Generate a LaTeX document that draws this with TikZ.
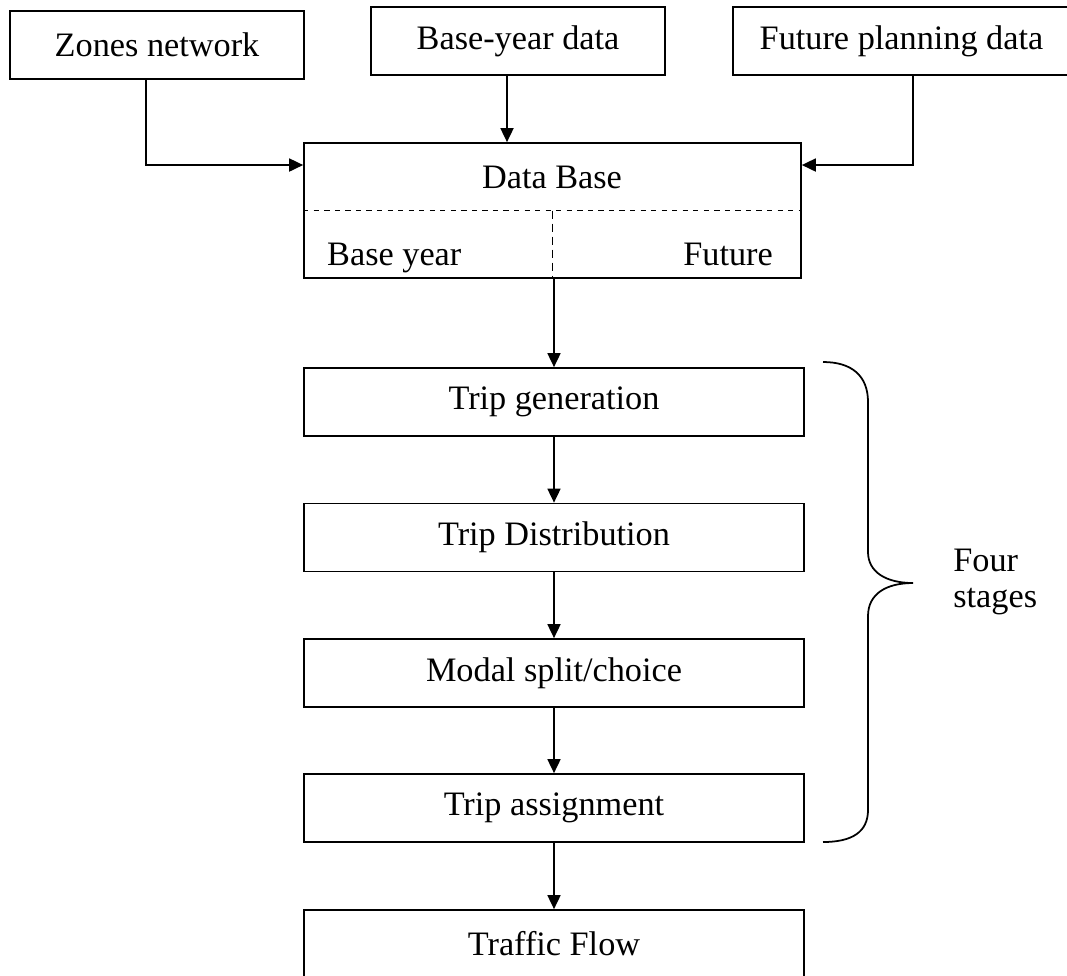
\documentclass[tikz,border=0pt]{standalone}
\usepackage{fontspec}
\setmainfont{Liberation Serif}
\usepackage{tikz}
\usetikzlibrary{arrows.meta}

\begin{document}
\begin{tikzpicture}[x=0.02cm, y=-0.02cm,
                    every node/.style={font=\fontsize{19.5}{23.5}\selectfont},
                    box/.style={draw, line width=1pt, minimum height=1.36cm, inner sep=0pt},
                    arr/.style={line width=1pt, -{Triangle[length=0.28cm, width=0.26cm]}}]
                    \useasboundingbox (0,0) rectangle (1067,975);

                    \node[box, minimum width=5.88cm] (zones)  at ( 157,  45)    {Zones network};
                    \node[box, minimum width=5.88cm] (baseyr) at ( 518,  41)    {Base-year data};
                    \node[box, minimum width=6.74cm] (future) at (901.5, 41)    {Future planning data};

                    \node[box, minimum width=9.94cm, minimum height=2.7cm] (db) at (552.5, 210.5) {};
                    \node (dbtitle) at (552, 177)                       {Data Base};
                    \node[anchor=base west] (dbbase) at (321, 265)      {Base year};
                    \node[anchor=base east] (dbfut)  at (779, 265)      {Future};
                    \draw[dashed, line width=1pt] (db.west) -- (db.east);
                    \draw[dash pattern=on 0.16cm off 0.1cm, line width=1pt] (db.center) -- (db.south);

                    \node[box, minimum width=10cm] (gen)    at ( 554, 402)    {Trip generation};
                    \node[box, minimum width=10cm] (dist)   at ( 554, 537.5)  {Trip Distribution};
                    \node[box, minimum width=10cm] (modal)  at ( 554, 673)    {Modal split/choice};
                    \node[box, minimum width=10cm] (assign) at ( 554, 808)    {Trip assignment};
                    \node[box, minimum width=10cm] (flow)   at ( 554, 944)    {Traffic Flow};

                    \draw[arr] ([xshift=-0.22cm]zones.south) |- ([yshift=0.91cm]db.west);
                    \draw[arr] ([xshift=-0.22cm]baseyr.south) -- ([xshift=-0.22cm]baseyr.south |- db.north);
                    \draw[arr] ([xshift=0.23cm]future.south) |- ([yshift=0.91cm]db.east);
                    \draw[arr] (gen.north |- db.south) -- (gen.north);

                    \foreach \a/\b in {gen/dist, dist/modal, modal/assign, assign/flow}{
                        \draw[arr] (\a) -- (\b);
                        };

                    % brace round the four stages
                    \draw[line width=1pt] (823,362) .. controls (852,362) and (868,376) .. (868,402)
                        -- (868,552) .. controls (868,572) and (886,583) .. (913,583)
                        .. controls (886,583) and (868,594) .. (868,616)
                        -- (868,810) .. controls (868,832) and (852,842) .. (823,842);
                    \node[anchor=west, align=left, inner sep=0pt,
                          font=\fontsize{19.5}{20}\selectfont] (stages) at (953, 582) {Four\\stages};
                \end{tikzpicture}
\end{document}
